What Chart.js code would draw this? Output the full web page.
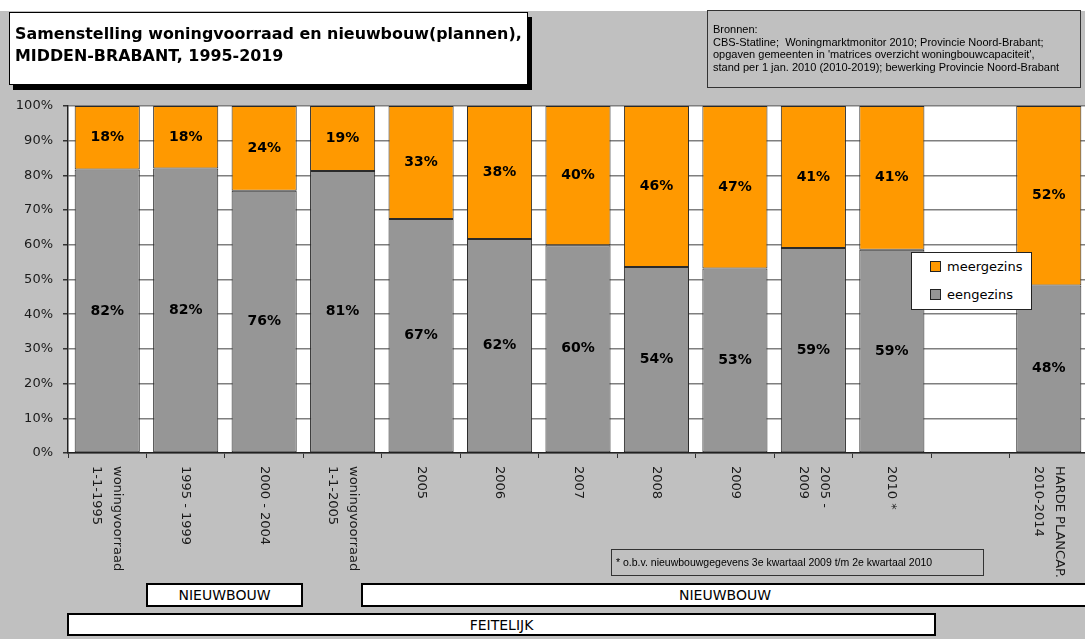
<!DOCTYPE html>
<html>
<head>
<meta charset="utf-8">
<script src="https://cdn.jsdelivr.net/npm/chart.js@4.4.1/dist/chart.umd.min.js"></script>
<style>
  html, body { margin:0; padding:0; width:1085px; height:639px; overflow:hidden; background:#c0c0c0; font-family:"DejaVu Sans", sans-serif; }
  #topstrip { position:absolute; left:0; top:0; width:1085px; height:11px; background:#fff; }
  #wrap { position:absolute; left:0; top:0; width:1100px; height:639px; }
  .box { position:absolute; box-sizing:border-box; }
  #title { left:9px; top:12px; width:519px; height:73px; background:#fff; border:1.5px solid #000; box-shadow:4px 5px 0 #000;
           font-weight:bold; font-size:15.9px; line-height:22px; padding:10px 0 0 5px; color:#000; white-space:nowrap; }
  #sources { left:707px; top:10px; width:374px; height:78px; border:1px solid #333; font-family:"Liberation Sans", Arial, sans-serif;
             font-size:11px; line-height:12.5px; padding:12px 0 0 5px; color:#000; white-space:nowrap; }
  #note { left:611px; top:549px; width:373px; height:27px; border:1px solid #333; font-family:"Liberation Sans", Arial, sans-serif;
          font-size:10.5px; line-height:25px; padding-left:4px; white-space:nowrap; }
  .band { background:#fff; border:2px solid #000; font-size:14px; text-align:center; line-height:20px; color:#000; }
  #legend { left:911px; top:252px; width:121px; height:58px; background:#fff; border:1.5px solid #222; font-size:13px; }
  #legend .it { position:absolute; left:18px; height:14px; line-height:14px; }
  #legend .sw { display:inline-block; width:9px; height:9px; border:1px solid #222; margin-right:6px; vertical-align:-1px; }
</style>
</head>
<body>
<div id="topstrip"></div>
<div id="wrap"><canvas id="chart" width="1100" height="639"></canvas></div>

<div class="box" id="title">Samenstelling woningvoorraad en nieuwbouw(plannen),<br>MIDDEN-BRABANT, 1995-2019</div>
<div class="box" id="sources">Bronnen:<br>CBS-Statline;&nbsp; Woningmarktmonitor 2010; Provincie Noord-Brabant;<br>opgaven gemeenten in 'matrices overzicht woningbouwcapaciteit',<br>stand per 1 jan. 2010 (2010-2019); bewerking Provincie Noord-Brabant</div>
<div class="box" id="note">* o.b.v. nieuwbouwgegevens 3e kwartaal 2009 t/m 2e kwartaal 2010</div>
<div class="box band" style="left:146px;top:583px;width:157px;height:24px;">NIEUWBOUW</div>
<div class="box band" style="left:361px;top:583px;width:728px;height:24px;">NIEUWBOUW</div>
<div class="box band" style="left:67px;top:613px;width:869px;height:23px;">FEITELIJK</div>
<div class="box" id="legend">
  <div class="it" style="top:7px;"><span class="sw" style="background:#ff9900"></span>meergezins</div>
  <div class="it" style="top:35px;"><span class="sw" style="background:#969696"></span>eengezins</div>
</div>

<script>
// ── Data ─────────────────────────────────────────────────────
const categories = [
  ['woningvoorraad', '1-1-1995'], ['1995 - 1999'], ['2000 - 2004'], ['woningvoorraad', '1-1-2005'],
  ['2005'], ['2006'], ['2007'], ['2008'], ['2009'], ['2005 -', '2009'], ['2010 *'], [''],
  ['HARDE PLANCAP.', '2010-2014']
];
const eengezins  = [81.7, 82.0, 75.6, 81.3, 67.4, 61.7, 59.9, 53.6, 53.2, 59.1, 58.6, null, 48.3];
const meergezins = [18.3, 18.0, 24.4, 18.7, 32.6, 38.3, 40.1, 46.4, 46.8, 40.9, 41.4, null, 51.7];
const yTicks = [0, 10, 20, 30, 40, 50, 60, 70, 80, 90, 100];

const C = { orange:'#ff9900', grey:'#969696', edge:'#2a2a2a', grid:'#7f7f7f', text:'#1a1a1a' };

// plot background white
const plotBg = {
  id:'plotBg',
  beforeDraw(chart) {
    const { ctx, chartArea:a } = chart;
    ctx.save(); ctx.fillStyle = '#fff';
    ctx.fillRect(a.left, a.top, a.right - a.left, a.bottom - a.top);
    ctx.restore();
  }
};

// value labels in the middle of each segment
const segLabels = {
  id:'segLabels',
  afterDatasetsDraw(chart) {
    const ctx = chart.ctx;
    ctx.save();
    ctx.font = 'bold 14px "DejaVu Sans", sans-serif';
    ctx.fillStyle = '#000'; ctx.textAlign = 'center'; ctx.textBaseline = 'middle';
    chart.data.datasets.forEach((ds, di) => {
      chart.getDatasetMeta(di).data.forEach((el, i) => {
        const v = ds.data[i];
        if (v == null) return;
        ctx.fillText(Math.round(v) + '%', el.x, (el.y + el.base) / 2);
      });
    });
    ctx.restore();
  }
};

// x labels rotated clockwise, reading top-down
const xLabels = {
  id:'xLabels',
  afterDraw(chart) {
    const { ctx, scales:{ x } } = chart;
    const lh = 21;
    ctx.save();
    ctx.font = '13px "DejaVu Sans", sans-serif';
    ctx.fillStyle = C.text; ctx.textAlign = 'left'; ctx.textBaseline = 'middle';
    categories.forEach((lines, i) => {
      const px = x.getPixelForValue(i);
      ctx.save();
      ctx.translate(px, x.top + 13);
      ctx.rotate(Math.PI / 2);
      const y0 = -(lines.length - 1) / 2 * lh;
      lines.forEach((t, k) => ctx.fillText(t, 0, y0 + k * lh));
      ctx.restore();
    });
    ctx.restore();
  }
};

new Chart(document.getElementById('chart'), {
  type:'bar',
  data:{
    labels: categories.map(l => l.join(' ')),
    datasets:[
      { label:'eengezins',  data:eengezins,  backgroundColor:C.grey,   borderColor:C.edge, borderWidth:1, borderSkipped:false },
      { label:'meergezins', data:meergezins, backgroundColor:C.orange, borderColor:C.edge, borderWidth:1, borderSkipped:false },
    ]
  },
  plugins:[plotBg, segLabels, xLabels],
  options:{
    responsive:false, animation:false, devicePixelRatio:1,
    layout:{ padding:{ left:0, top:106, right:12, bottom:0 } },
    datasets:{ bar:{ categoryPercentage:1, barPercentage:0.83 } },
    plugins:{ legend:{ display:false }, tooltip:{ enabled:false } },
    scales:{
      x:{
        stacked:true,
        afterFit: s => { s.height = 186; },
        grid:{ display:true, drawOnChartArea:false, offset:true, color:'#333', tickLength:5, lineWidth:1 },
        border:{ display:true, color:'#222', width:1.5 },
        ticks:{ display:false }
      },
      y:{
        stacked:true, min:0, max:100,
        afterFit: s => { s.width = 68; },
        afterBuildTicks: s => { s.ticks = [];
          for (let v = 0; v <= 100; v += 5) s.ticks.push({ value:v }); },
        grid:{ color: c => (c.tick && c.tick.value % 10 === 0) ? C.grid : 'rgba(0,0,0,0)',
               tickColor:'#333', tickLength:5, lineWidth:1.5 },
        border:{ display:true, color:'#222', width:1.5 },
        ticks:{ padding:10, color:C.text, font:{ family:'"DejaVu Sans", sans-serif', size:13 },
                callback: v => yTicks.includes(v) ? v + '%' : '' }
      }
    }
  }
});
</script>
</body>
</html>
